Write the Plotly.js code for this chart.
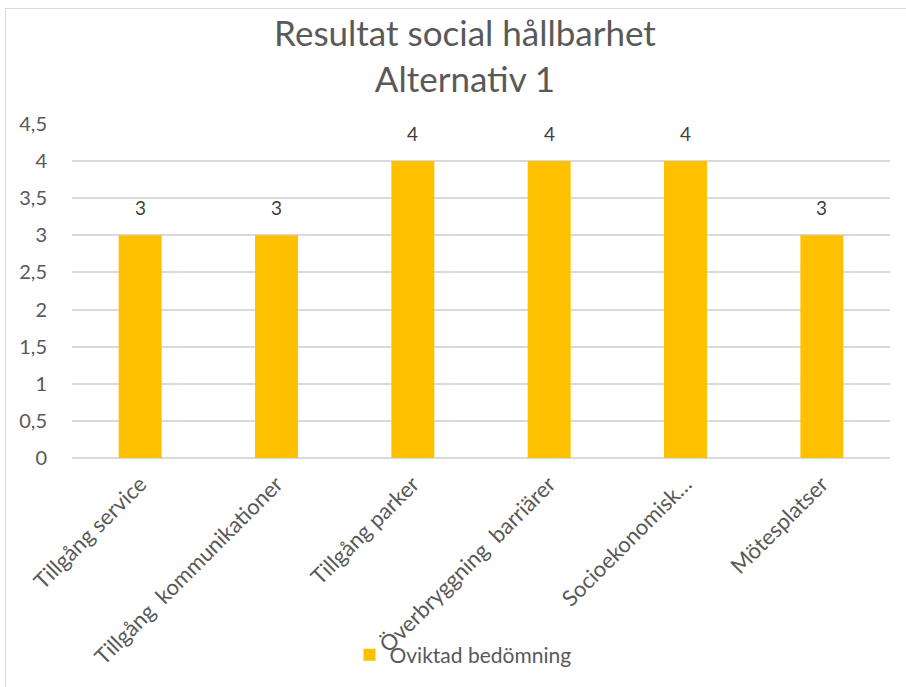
<!DOCTYPE html>
<html>
<head>
<meta charset="utf-8">
<script src="https://cdn.plot.ly/plotly-3.0.1.min.js"></script>
<style>
html,body{margin:0;padding:0;background:#fff;}
#wrap{position:relative;width:906px;height:687px;overflow:hidden;}
#chart{width:906px;height:687px;}
#frame{position:absolute;left:5px;top:8px;width:940px;height:720px;border:1.5px solid #d9d9d9;pointer-events:none;box-sizing:border-box;}
</style>
</head>
<body>
<div id="wrap"><div id="chart"></div><div id="frame"></div></div>
<script>
const categories = ["Tillgång service", "Tillgång\u00a0 kommunikationer", "Tillgång parker", "Överbryggning\u00a0 barriärer", "Socioekonomisk…", "Mötesplatser"];
const values = [3, 3, 4, 4, 4, 3];
const seriesName = "Oviktad bedömning";
const titleText = "Resultat social hållbarhet<br>Alternativ 1";
const yTicks = [0, 0.5, 1, 1.5, 2, 2.5, 3, 3.5, 4, 4.5];

const FONT = "Lato, 'Open Sans', sans-serif";
const GRAY = "#595959";

const trace = {
  type: "bar",
  x: categories,
  y: values,
  name: seriesName,
  marker: {color: "#FFC000"},
  showlegend: true,
  hoverinfo: "x+y"
};

const labelAnns = categories.map((c, i) => ({
  x: c, y: values[i], xref: "x", yref: "y",
  text: String(values[i]), showarrow: false,
  yanchor: "bottom", yshift: 14,
  font: {family: FONT, size: 19, color: "#404040"}
}));

const layout = {
  width: 906, height: 687,
  paper_bgcolor: "#fff", plot_bgcolor: "#fff",
  separators: ", ",
  margin: {l: 72, r: 16, t: 124, b: 229},
  font: {family: FONT, color: GRAY},
  title: {text: titleText, x: 465/906, xanchor: "center", y: 1 - 46/687, yref: "container", yanchor: "middle",
          font: {family: FONT, size: 35, color: GRAY}},
  bargap: 0.685,
  xaxis: {
    tickangle: -45, tickfont: {family: FONT, size: 22, color: GRAY},
    showgrid: false, showline: false, ticks: "", automargin: false,
    ticklabelstandoff: 8
  },
  yaxis: {
    range: [0, 4.5], tickvals: yTicks, tickformat: ".1~f",
    tickfont: {family: FONT, size: 20, color: GRAY},
    showgrid: true, gridcolor: "#d9d9d9", gridwidth: 1.5,
    zeroline: true, zerolinecolor: "#d9d9d9", zerolinewidth: 1.5,
    showline: false, ticks: "outside", ticklen: 20, tickcolor: "rgba(0,0,0,0)",
    automargin: false
  },
  legend: {
    orientation: "h", x: 0.478, xanchor: "center", y: 1 - 655/687, yref: "container", yanchor: "middle",
    bgcolor: "rgba(0,0,0,0)",
    font: {family: FONT, size: 21, color: GRAY}, itemwidth: 30
  },
  annotations: labelAnns
};

Plotly.newPlot("chart", [trace], layout, {displayModeBar: false, responsive: false});
</script>
</body>
</html>
